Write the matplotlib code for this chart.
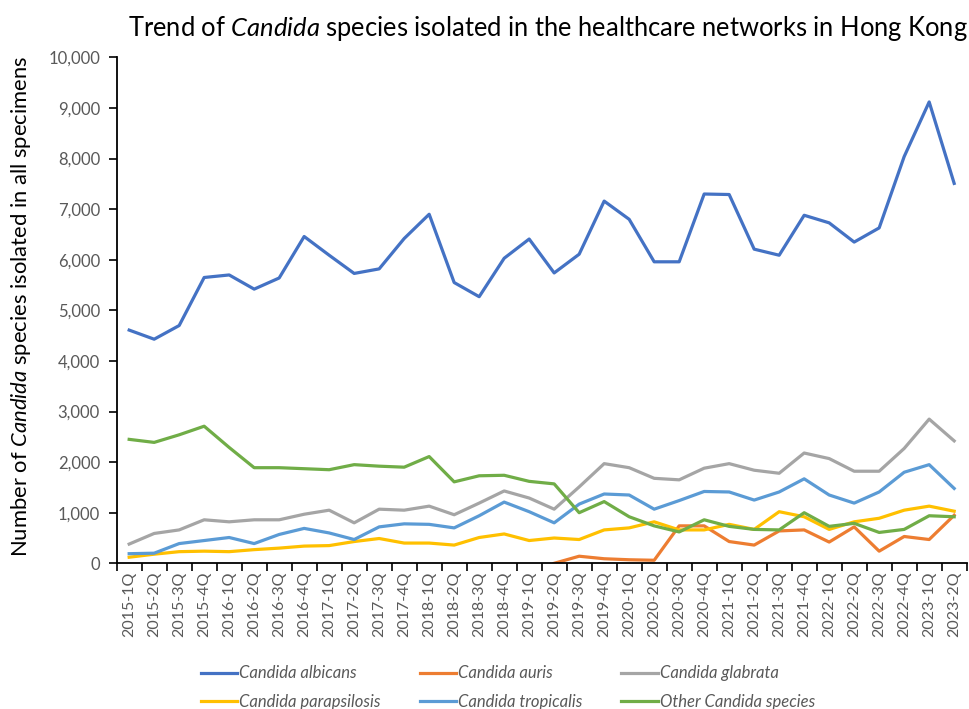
import numpy as np
import matplotlib
matplotlib.use("Agg")
import matplotlib.pyplot as plt
from matplotlib.ticker import FuncFormatter

plt.rcParams['font.family'] = ['Lato', 'DejaVu Sans']
plt.rcParams['mathtext.fontset'] = 'custom'
plt.rcParams['mathtext.rm'] = 'Lato'
plt.rcParams['mathtext.it'] = 'Lato:italic'

# quarters 2015-1Q .. 2023-2Q
quarters = [f"{y}-{q}Q" for y in range(2015, 2024) for q in range(1, 5)][:34]

albicans = [4610, 4430, 4700, 5650, 5700, 5420, 5640, 6460, 6090, 5730, 5820, 6420,
            6900, 5550, 5270, 6030, 6410, 5740, 6110, 7160, 6800, 5960, 5960, 7300,
            7290, 6210, 6090, 6880, 6730, 6350, 6630, 8040, 9120, 7510]
auris = [None] * 17 + [0, 140, 90, 70, 60, 740, 740, 430, 360, 640, 660, 420,
                       720, 240, 530, 470, 950]
glabrata = [380, 590, 660, 860, 820, 860, 860, 970, 1050, 800, 1070, 1050,
            1130, 960, 1190, 1430, 1290, 1070, 1510, 1970, 1890, 1680, 1650, 1880,
            1970, 1840, 1780, 2180, 2070, 1820, 1820, 2270, 2850, 2420]
parapsilosis = [120, 180, 230, 240, 230, 270, 300, 340, 350, 430, 490, 400,
                400, 360, 510, 580, 450, 500, 470, 660, 700, 820, 660, 660,
                770, 670, 1020, 920, 670, 820, 890, 1050, 1130, 1030]
tropicalis = [190, 200, 390, 450, 510, 390, 570, 690, 600, 470, 720, 780,
              770, 700, 940, 1210, 1020, 800, 1170, 1370, 1350, 1070, 1240, 1420,
              1410, 1250, 1410, 1670, 1350, 1190, 1410, 1800, 1950, 1480]
other = [2450, 2390, 2540, 2710, 2290, 1890, 1890, 1870, 1850, 1950, 1920, 1900,
         2110, 1610, 1730, 1740, 1620, 1570, 1000, 1220, 920, 740, 620, 860,
         730, 670, 660, 1000, 730, 790, 610, 670, 940, 920]

series = [
    ("Candida albicans", albicans, "#4472C4"),
    ("Candida auris", auris, "#ED7D31"),
    ("Candida glabrata", glabrata, "#A5A5A5"),
    ("Candida parapsilosis", parapsilosis, "#FFC000"),
    ("Candida tropicalis", tropicalis, "#5B9BD5"),
    ("Other Candida species", other, "#70AD47"),
]

fig = plt.figure(figsize=(9.69, 7.09), dpi=100)
ax = fig.add_axes([0.1204, 0.2055, 0.8772, 0.7135])

x = np.arange(len(quarters))
lines = []
for name, vals, col in series:
    v = np.array([np.nan if a is None else a for a in vals], dtype=float)
    ln, = ax.plot(x, v, color=col, lw=2.3, label=name)
    lines.append(ln)

ax.set_xlim(-0.5, len(quarters) - 0.5)
ax.set_ylim(0, 10000)
ax.set_yticks(np.arange(0, 10001, 1000))
ax.yaxis.set_major_formatter(FuncFormatter(lambda v, p: f"{int(v):,}"))
ax.set_xticks(x, quarters, rotation=90)
ax.set_xticks(np.arange(-0.5, len(quarters)), minor=True)
ax.tick_params(axis='x', which='major', length=0, labelsize=11.5, labelcolor='#595959', pad=6)
ax.tick_params(axis='x', which='minor', length=6, width=1.2, color='black')
ax.tick_params(axis='y', length=6, width=1.2, labelsize=12, labelcolor='#595959', pad=6)

for s in ['top', 'right']:
    ax.spines[s].set_visible(False)
for s in ['left', 'bottom']:
    ax.spines[s].set_linewidth(1.3)
    ax.spines[s].set_color('black')

fig.text(0.5655, 0.96, r"Trend of $\it{Candida}$ species isolated in the healthcare networks in Hong Kong",
         ha='center', va='center', fontsize=18.4)
fig.text(0.022, 0.5675, r"Number of $\it{Candida}$ species isolated in all specimens",
         ha='center', va='center', rotation=90, fontsize=15.8)

# legend laid out row by row like the original (matplotlib fills by column)
order = [0, 3, 1, 4, 2, 5]
leg = fig.legend([lines[i] for i in order], [series[i][0] for i in order],
                 loc='center', bbox_to_anchor=(0.524, 0.03), ncol=3, frameon=False,
                 prop={'style': 'italic', 'size': 12}, handlelength=2.2,
                 handletextpad=0.1, columnspacing=2.35, labelspacing=0.75)
for t in leg.get_texts():
    t.set_color('#595959')

fig.savefig("out.png", dpi=100)
